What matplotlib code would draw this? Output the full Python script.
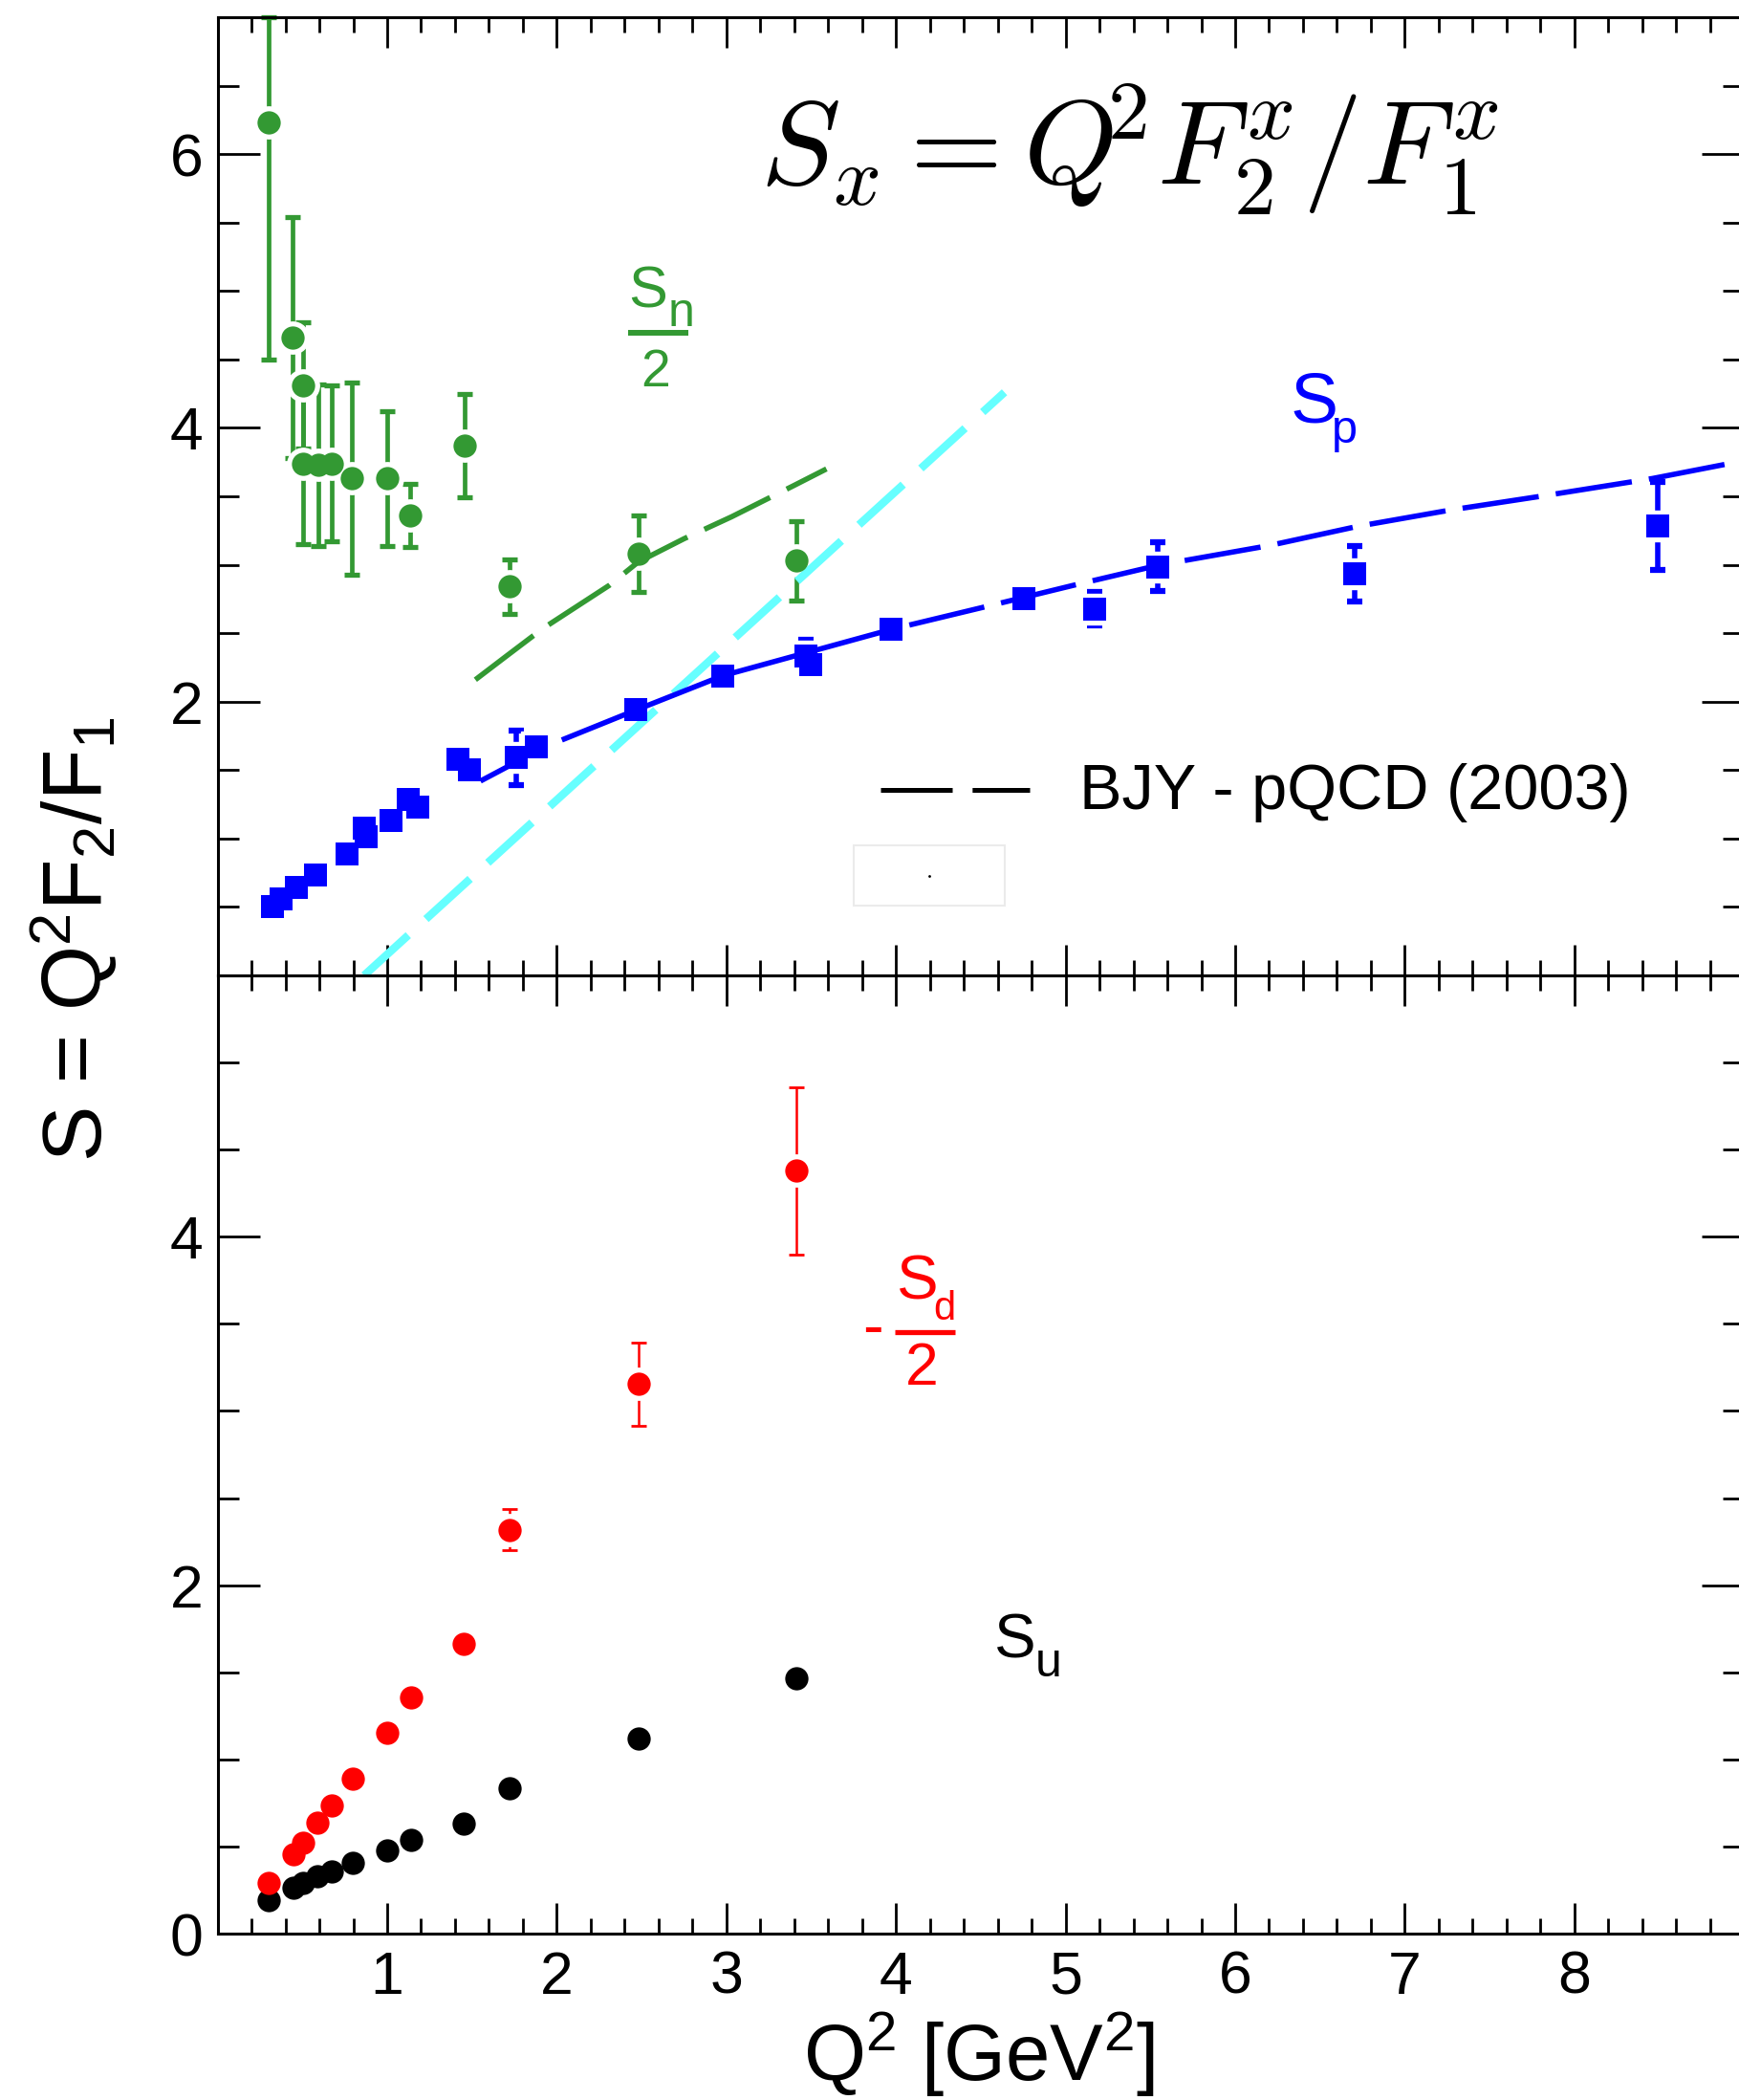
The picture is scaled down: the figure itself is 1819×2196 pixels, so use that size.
import matplotlib
matplotlib.use("Agg")
import matplotlib.pyplot as plt
from matplotlib.ticker import MultipleLocator
from matplotlib.patches import Rectangle

plt.rcParams['font.family'] = ['Liberation Sans', 'DejaVu Sans']
plt.rcParams['mathtext.fontset'] = 'custom'
plt.rcParams['mathtext.rm'] = 'Liberation Sans'
plt.rcParams['mathtext.it'] = 'Liberation Sans:italic'
plt.rcParams['mathtext.bf'] = 'Liberation Sans:bold'
plt.rcParams['lines.scale_dashes'] = False

# ---------------- data ----------------
# S_n / 2 (green, top panel)
q2_n = [0.302, 0.443, 0.504, 0.504, 0.592, 0.675, 0.793, 1.002, 1.135, 1.455, 1.722, 2.482, 3.413]
sn_half = [6.23, 4.66, 4.31, 3.74, 3.73, 3.74, 3.63, 3.63, 3.36, 3.87, 2.84, 3.08, 3.03]
sn_err_lo = [1.73, 0.88, 0.46, 0.59, 0.59, 0.57, 0.70, 0.49, 0.23, 0.38, 0.20, 0.28, 0.29]
sn_err_hi = [0.77, 0.88, 0.46, 0.59, 0.59, 0.57, 0.70, 0.49, 0.23, 0.38, 0.20, 0.28, 0.29]

# S_p (blue squares, top panel)
q2_p = [0.325, 0.374, 0.465, 0.575, 0.765, 0.865, 0.878, 1.020, 1.122, 1.182, 1.420, 1.483,
        1.762, 1.880, 2.468, 2.977, 3.470, 3.500, 3.972, 4.752, 5.172, 5.546, 6.702, 8.492]
sp = [0.500, 0.556, 0.645, 0.737, 0.888, 1.075, 1.011, 1.130, 1.285, 1.230, 1.578, 1.500,
      1.590, 1.670, 1.942, 2.185, 2.330, 2.270, 2.530, 2.755, 2.678, 2.985, 2.934, 3.283]
sp_err = [0, 0, 0, 0, 0, 0, 0, 0, 0, 0, 0, 0,
          0.20, 0, 0, 0, 0.12, 0.05, 0, 0, 0.12, 0.18, 0.20, 0.32]

# BJY pQCD curves
bjy_p_q2 = [1.55, 1.71, 1.80, 2.03, 2.47, 2.98, 3.48, 3.98, 4.55, 5.08, 5.56, 6.20, 6.72, 7.27, 7.80, 8.46, 9.00]
bjy_p_s = [1.42, 1.525, 1.58, 1.72, 1.94, 2.19, 2.36, 2.53, 2.70, 2.86, 3.00, 3.14, 3.28, 3.40, 3.50, 3.63, 3.76]
bjy_n_q2 = [1.52, 1.70, 1.86, 1.95, 2.31, 2.48, 2.75, 3.03, 3.40, 3.59]
bjy_n_s = [2.16, 2.33, 2.48, 2.56, 2.85, 3.02, 3.19, 3.35, 3.58, 3.70]
cyan_q2 = [0.864, 4.64]
cyan_s = [0.0, 4.26]

# bottom panel: -S_d/2 (red) and S_u (black)
q2_d = [0.303, 0.449, 0.502, 0.590, 0.671, 0.795, 1.000, 1.139, 1.453, 1.720, 2.484, 3.414]
sd = [0.290, 0.455, 0.520, 0.636, 0.737, 0.889, 1.155, 1.358, 1.665, 2.319, 3.154, 4.380]
sd_err = [0, 0, 0, 0, 0, 0, 0, 0, 0, 0.12, 0.24, 0.48]
su = [0.191, 0.262, 0.292, 0.327, 0.358, 0.404, 0.480, 0.538, 0.634, 0.837, 1.118, 1.465]

xtick_vals = [1, 2, 3, 4, 5, 6, 7, 8]
top_yticks = [0, 2, 4, 6]
top_ylabels = ['', '2', '4', '6']
bot_yticks = [0, 2, 4]
bot_ylabels = ['0', '2', '4']

GREEN = '#339933'
BLUE = '#0000ff'
RED = '#ff0000'
CYAN = '#66ffff'

fig = plt.figure(figsize=(18.19, 21.96), dpi=100)
L, W = 0.12512, 0.87773
ax1 = fig.add_axes([L, 0.53552, W, 0.45628])
ax2 = fig.add_axes([L, 0.07923, W, 0.45628])

for ax in (ax1, ax2):
    ax.set_xlim(0, 9)
    ax.set_xticks(xtick_vals)
    ax.xaxis.set_minor_locator(MultipleLocator(0.2))
    ax.yaxis.set_minor_locator(MultipleLocator(0.5))
    ax.tick_params(which='both', direction='in', top=True, right=True, width=2.0,
                   labelsize=45, colors='black')
    ax.tick_params(axis='x', which='major', length=23, pad=12)
    ax.tick_params(axis='x', which='minor', length=11.5)
    ax.tick_params(axis='y', which='major', length=32, pad=11)
    ax.tick_params(axis='y', which='minor', length=16)
    for s in ax.spines.values():
        s.set_linewidth(2.2)

ax1.set_ylim(0, 7)
ax1.set_yticks(top_yticks, top_ylabels)
ax1.tick_params(labelbottom=False)
ax2.set_ylim(0, 5.5)
ax2.set_yticks(bot_yticks, bot_ylabels)
ax2.set_xticks(xtick_vals, [str(v) for v in xtick_vals])

# ---------- top panel ----------
# curves
ax1.plot(cyan_q2, cyan_s, color=CYAN, lw=6.0, linestyle=(0, (45, 18)), zorder=3,
         dash_capstyle='butt')
ax1.plot(bjy_n_q2, bjy_n_s, color=GREEN, lw=4.0, linestyle=(0, (55, 14)), zorder=3, dash_capstyle='butt')
ax1.plot(bjy_p_q2[0:3], bjy_p_s[0:3], color=BLUE, lw=4.0, zorder=3, solid_capstyle='butt')
ax1.plot(bjy_p_q2[3:8], bjy_p_s[3:8], color=BLUE, lw=4.0, zorder=3, solid_capstyle='butt')
ax1.plot(bjy_p_q2[7:], bjy_p_s[7:], color=BLUE, lw=4.0, linestyle=(58, (58, 13)), zorder=3,
         dash_capstyle='butt')

# green data
ax1.errorbar(q2_n, sn_half, yerr=[sn_err_lo, sn_err_hi], fmt='none', ecolor=GREEN, elinewidth=3.4,
             capsize=6, capthick=3.8, zorder=1.5, clip_on=False)
ax1.plot(q2_n, sn_half, 'o', ms=24, color='white', mec='white', zorder=2)
ax1.plot(q2_n, sn_half, 'o', ms=17.5, color=GREEN, mec=GREEN, mew=0, zorder=4)

# blue data
ax1.errorbar(q2_p, sp, yerr=sp_err, fmt='none', ecolor=BLUE, elinewidth=4.0,
             capsize=6, capthick=4.5, zorder=1.5)
ax1.plot(q2_p, sp, 's', ms=23, color='white', mec='white', zorder=2)
ax1.plot(q2_p, sp, 's', ms=17.5, color=BLUE, mec=BLUE, mew=0, zorder=4)

# formula
ax1.text(5.374, 5.78, r'$S_x = Q^{\!\!2} F^x_2 / F^x_1$', fontsize=90, ha='center', va='baseline',
         math_fontfamily='cm', color='black')

# S_n / 2 label
ax1.text(2.42, 4.883, 'S', fontsize=44, color=GREEN, ha='left', va='baseline')
ax1.text(2.653, 4.743, 'n', fontsize=36, color=GREEN, ha='left', va='baseline')
ax1.plot([2.42, 2.776], [4.695, 4.695], color=GREEN, lw=4.3, solid_capstyle='butt')
ax1.text(2.581, 4.303, '2', fontsize=40, color=GREEN, ha='center', va='baseline')

# S_p label
ax1.text(6.327, 4.038, 'S', fontsize=54, color=BLUE, ha='left', va='baseline')
ax1.text(6.57, 3.891, 'p', fontsize=35, color=BLUE, ha='left', va='baseline')

# legend entry
ax1.plot([3.908, 4.786], [1.355, 1.355], color='black', lw=3.6, linestyle=(0, (54, 15)),
         dash_capstyle='butt')
ax1.text(5.08, 1.218, 'BJY - pQCD (2003)', fontsize=48, ha='left', va='baseline')
ax1.add_patch(Rectangle((3.75, 0.51), 0.892, 0.44, fill=False, edgecolor='#ebebeb', lw=1.5))
ax1.plot([4.194], [0.728], 'o', ms=1, color='black')

# ---------- bottom panel ----------
ax2.errorbar(q2_d, sd, yerr=sd_err, fmt='none', ecolor=RED, elinewidth=1.8,
             capsize=6, capthick=2.0, zorder=1.5)
ax2.plot(q2_d, sd, 'o', ms=24, color='white', mec='white', zorder=2)
ax2.plot(q2_d, su, 'o', ms=17.5, color='black', mew=0, zorder=3)
ax2.plot(q2_d, sd, 'o', ms=17.5, color=RED, mew=0, zorder=4)

ax2.text(3.805, 3.37, '-', fontsize=47, color=RED, ha='left', va='baseline')
ax2.text(4.006, 3.643, 'S', fontsize=47, color=RED, ha='left', va='baseline')
ax2.text(4.223, 3.524, 'd', fontsize=30, color=RED, ha='left', va='baseline')
ax2.plot([3.993, 4.35], [3.452, 3.452], color=RED, lw=3.8, solid_capstyle='butt')
ax2.text(4.155, 3.150, '2', fontsize=45, color=RED, ha='center', va='baseline')

ax2.text(4.58, 1.585, 'S', fontsize=47, color='black', ha='left', va='baseline')
ax2.text(4.82, 1.475, 'u', fontsize=36, color='black', ha='left', va='baseline')

# axis labels
fig.text(78 / 1819, 1 - 982 / 2196, r'S = Q$^{2}$F$_{2}$/F$_{1}$', fontsize=63, rotation=90,
         ha='center', va='center')
fig.text(1024 / 1819, 1 - 2176 / 2196, r'Q$^{2}$ [GeV$^{2}$]', fontsize=60, ha='center', va='baseline')

fig.savefig('out.png', dpi=100)
